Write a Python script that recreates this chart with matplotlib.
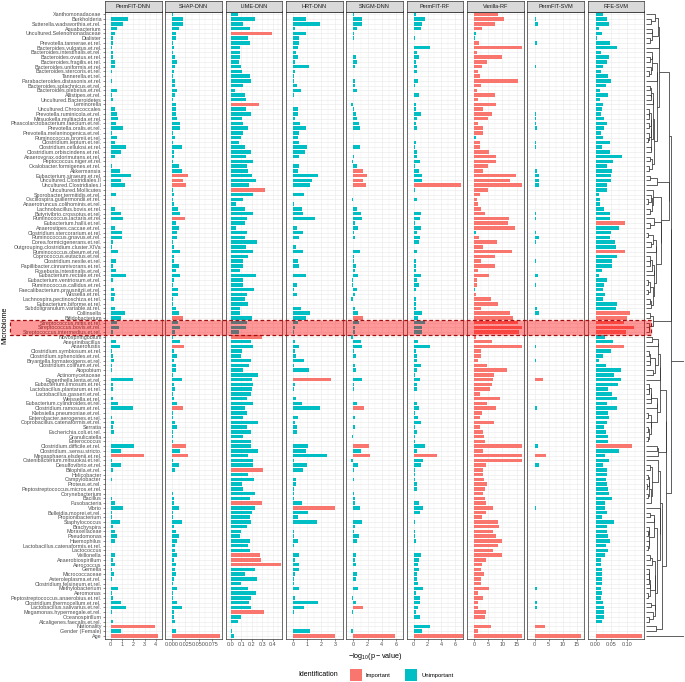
import numpy as np
import matplotlib
matplotlib.use('Agg')
import matplotlib.pyplot as plt
from matplotlib.patches import Rectangle
import matplotlib.transforms as mtransforms

plt.rcParams['font.family'] = ['Liberation Sans', 'DejaVu Sans']

# --- row labels, top to bottom ---
taxa = [
    "Xanthomonadaceae", "Burkholderia", "Sutterella.wadsworthia.et.rel.", "Aquabacterium",
    "Uncultured.Selenomonadaceae", "Dialister", "Prevotella.tannerae.et.rel.", "Bacteroides.vulgatus.et.rel.",
    "Bacteroides.intestinalis.et.rel.", "Bacteroides.ovatus.et.rel.",
    "Bacteroides.fragilis.et.rel.", "Bacteroides.uniformis.et.rel.", "Bacteroides.stercoris.et.rel.",
    "Tannerella.et.rel.", "Parabacteroides.distasonis.et.rel.", "Bacteroides.splachnicus.et.rel.",
    "Bacteroides.plebeius.et.rel.", "Allistipes.et.rel.", "Uncultured.Bacteroidetes", "Leminorella",
    "Uncultured.Chroococcales", "Prevotella.ruminicola.et.rel.", "Mitsuokella.multiacida.et.rel.",
    "Phascolarctobacterium.faecium.et.rel.", "Prevotella.oralis.et.rel.", "Prevotella.melaninogenica.et.rel.",
    "Ruminococcus.bromii.et.rel.", "Clostridium.leptum.et.rel.", "Clostridium.cellulosi.et.rel.",
    "Clostridium.orbiscindens.et.rel.",
    "Anaerovorax.odorimutans.et.rel.", "Peptococcus.niger.et.rel.", "Oxalobacter.formigenes.et.rel.",
    "Akkermansia", "Eubacterium.siraeum.et.rel.", "Uncultured.Clostridiales.II", "Uncultured.Clostridiales.I",
    "Uncultured.Mollicutes", "Sporobacter.termitidis.et.rel.", "Oscillospira.guillermondii.et.rel.",
    "Anaerotruncus.colihominis.et.rel.", "Lachnobacillus.bovis.et.rel.", "Butyrivibrio.crossotus.et.rel.",
    "Ruminococcus.lactaris.et.rel.", "Eubacterium.hallii.et.rel.", "Anaerostipes.caccae.et.rel.",
    "Clostridium.stercorarium.et.rel.", "Ruminococcus.gnavus.et.rel.", "Dorea.formicigenerans.et.rel.",
    "Outgrouping.clostridium.cluster.XIVa", "Ruminococcus.obeum.et.rel.", "Coprococcus.eutactus.et.rel.",
    "Clostridium.nexile.et.rel.",
    "Papillibacter.cinnamivorans.et.rel.", "Roseburia.intestinalis.et.rel.", "Eubacterium.rectale.et.rel.",
    "Eubacterium.ventriosum.et.rel.", "Ruminococcus.callidus.et.rel.", "Faecalibacterium.prausnitzii.et.rel.",
    "Wissella.et.rel.", "Lachnospira.pectinoschiza.et.rel.", "Eubacterium.biforme.et.rel.",
    "Subdoligranulum.variable.at.rel.",
    "Collinsella", "Bifidobacterium", "Streptococcus.mitis.et.rel.",
    "Streptococcus.bovis.et.rel.", "Streptococcus.intermedius.et.rel.", "Novosphingobium", "Aneurinibacillus",
    "Anaerofustis", "Clostridium.symbiosum.et.rel.", "Clostridium.sphenoides.et.rel.",
    "Bryantella.formatexigens.et.rel.", "Clostridium.colinum.et.rel.", "Atopobium",
    "Actinomycetaceae", "Eggerthella.lenta.et.rel.", "Eubacterium.limosum.et.rel.",
    "Lactobacillus.plantarum.et.rel.", "Lactobacillus.gasseri.et.rel.", "Weissella.et.rel.",
    "Eubacterium.cylindroides.et.rel.", "Clostridium.ramosum.et.rel.", "Klebsiella.pneumoniae.et.rel.",
    "Enterobacter.aerogenes.et.rel.",
    "Coprobacillus.catenaformis.et.rel.", "Serratia", "Escherichia.coli.et.rel.", "Granulicatella",
    "Enterococcus", "Clostridium.difficile.et.rel.", "Clostridium..sensu.stricto.",
    "Megasphaera.elsdenii.et.rel.", "Catenibacterium.mitsuokai.et.rel.", "Desulfovibrio.et.rel.",
    "Bilophila.et.rel.", "Helicobacter", "Campylobacter", "Proteus.et.rel.",
    "Peptostreptococcus.micros.et.rel.", "Corynebacterium", "Bacillus", "Fusobacteria", "Vibrio",
    "Bulleidia.moorei.et.rel.", "Propionibacterium", "Staphylococcus", "Brachyspira", "Moraxellaceae",
    "Pseudomonas", "Haemophilus", "Lactobacillus.catenaformis.et.rel.", "Lactococcus", "Veillonella",
    "Anaerobiospirillum", "Aerococcus", "Gemella", "Micrococcaceae", "Asteroleplasma.et.rel.",
    "Clostridium.felsineum.et.rel.", "Methylobacterium", "Aeromonas", "Peptostreptococcus.anaerobius.et.rel.",
    "Clostridium.thermocellum.et.rel.", "Lactobacillus.salivarius.et.rel.", "Megamonas.hypermegale.et.rel.",
    "Oceanospirillum", "Alcaligenes.faecalis.et.rel.", "Nationality",
    "Gender (Female)", "Age",
]

# --- -log10(p-value) per method, same order as taxa ---
perm_dnn = [
    0.05, 1.5, 1.1, 0.57, 0.38, 0.19, 0.22, 0.08, 0.24, 0.24,
    0.38, 0.35, 0.08, 0.0, 0.14, 0.03, 0.6, 0.1, 0.24, 0.0,
    0.4, 0.57, 0.62, 0.49, 1.05, 0.16, 0.6, 0.38, 1.4, 0.89,
    0.35, 0.0, 0.1,
    0.8, 1.8, 0.95, 1.3, 0.03, 0.46, 0.05, 0.05, 0.4, 0.9,
    1.08, 0.05, 0.38, 1.0, 1.0, 0.22, 0.08, 0.68, 0.0, 0.49,
    0.24, 0.43, 1.38, 0.19, 0.02, 0.27, 0.35, 0.27, 0.0, 0.4,
    1.27, 0.92, 0.54,
    0.73, 0.22, 0.05, 0.43, 0.81, 0.14, 0.22, 0.3, 0.14, 0.14,
    0.0, 1.97, 0.22, 0.22, 0.05, 0.22, 0.68, 1.95, 0.0, 0.08,
    0.3, 0.22, 0.3, 0.0, 0.05, 2.05, 0.95, 2.92, 0.08, 0.95,
    0.19, 0.03, 0.08, 0.05,
    0.0, 0.05, 0.14, 0.38, 1.1, 0.14, 0.14, 0.86, 0.22, 0.35,
    0.57, 0.38, 0.05, 0.03, 0.38, 0.22, 0.38, 0.14, 0.3, 0.16,
    0.03, 0.68, 0.1, 0.22, 0.95, 1.4, 0.14, 0.05, 0.22, 3.95,
    0.95, 4.15,
]
shap_dnn = [
    0.002, 0.021, 0.021, 0.013, 0.007, 0.007, 0.002, 0.004, 0.002, 0.005,
    0.01, 0.005, 0.004, 0.001, 0.005, 0.005, 0.01, 0.006, 0.002, 0.008,
    0.008, 0.007, 0.01, 0.016, 0.016, 0.002, 0.005, 0.002, 0.018, 0.003,
    0.003, 0.002, 0.013,
    0.018, 0.03, 0.021, 0.026, 0.002, 0.003, 0.002, 0.003, 0.012, 0.016,
    0.024, 0.007, 0.014, 0.009, 0.009, 0.002, 0.004, 0.016, 0.003, 0.003,
    0.013, 0.007, 0.015, 0.003, 0.002, 0.012, 0.012, 0.002, 0.002, 0.008,
    0.013, 0.02, 0.012,
    0.016, 0.005, 0.001, 0.015, 0.022, 0.004, 0.009, 0.003, 0.007, 0.007,
    0.001, 0.018, 0.003, 0.005, 0.001, 0.003, 0.009, 0.021, 0.001, 0.002,
    0.005, 0.01, 0.002, 0.001, 0.001, 0.027, 0.016, 0.03, 0.002, 0.013,
    0.005, 0.0005, 0.0, 0.0,
    0.0, 0.002, 0.003, 0.003, 0.013, 0.002, 0.002, 0.018, 0.004, 0.007,
    0.013, 0.009, 0.005, 0.005, 0.01, 0.004, 0.007, 0.005, 0.007, 0.003,
    0.001, 0.01, 0.002, 0.001, 0.009, 0.019, 0.004, 0.004, 0.005, 0.0,
    0.007, 0.09,
]
lime_dnn = [
    0.065, 0.23, 0.12, 0.18, 0.39, 0.16, 0.18, 0.085, 0.09, 0.085,
    0.075, 0.1, 0.11, 0.18, 0.19, 0.12, 0.04, 0.13, 0.14, 0.27,
    0.14, 0.19, 0.11, 0.12, 0.16, 0.12, 0.1, 0.08, 0.13, 0.19,
    0.14, 0.21, 0.15,
    0.16, 0.2, 0.24, 0.17, 0.33, 0.21, 0.12, 0.05, 0.13, 0.21,
    0.15, 0.13, 0.05, 0.15, 0.13, 0.25, 0.14, 0.21, 0.16, 0.12,
    0.12, 0.09, 0.24, 0.12, 0.12, 0.22, 0.15, 0.13, 0.16, 0.09,
    0.09, 0.2, 0.15,
    0.14, 0.08, 0.3, 0.19, 0.21, 0.11, 0.1, 0.19, 0.17, 0.12,
    0.26, 0.2, 0.21, 0.2, 0.19, 0.15, 0.21, 0.13, 0.15, 0.12,
    0.26, 0.15, 0.19, 0.12, 0.19, 0.19, 0.26, 0.16, 0.21, 0.21,
    0.31, 0.16, 0.22, 0.11,
    0.12, 0.23, 0.18, 0.3, 0.23, 0.2, 0.18, 0.19, 0.15, 0.1,
    0.09, 0.18, 0.16, 0.18, 0.28, 0.29, 0.48, 0.23, 0.13, 0.25,
    0.1, 0.16, 0.24, 0.19, 0.17, 0.19, 0.32, 0.1, 0.07, 0.0,
    0.006, 0.03,
]
hrt_dnn = [
    0.0, 0.9, 1.9, 0.16, 0.88, 0.45, 0.39, 0.33, 0.18, 0.35,
    0.1, 1.1, 0.16, 0.04, 0.08, 0.25, 0.53, 0.06, 0.0, 0.0,
    0.35, 0.35, 0.16, 0.47, 0.88, 0.43, 0.33, 0.39, 0.99, 0.82,
    0.39, 0.0, 0.45,
    0.33, 1.75, 1.33, 1.17, 0.0, 0.8, 0.0, 0.04, 0.62, 0.72,
    1.56, 0.02, 0.31, 0.68, 0.43, 0.02, 0.2, 0.68, 0.0, 0.37,
    0.45, 0.02, 0.9, 0.02, 0.29, 0.04, 0.29, 0.02, 0.0, 0.55,
    1.17, 0.92, 0.33,
    0.16, 0.08, 0.0, 0.16, 0.39, 0.1, 0.23, 0.74, 0.04, 1.11,
    0.02, 2.7, 0.14, 0.08, 0.0, 0.18, 0.62, 1.87, 0.0, 0.33,
    0.16, 0.29, 0.29, 0.0, 0.0, 1.07, 0.92, 2.4, 0.06, 0.99,
    0.68, 0.0, 0.18, 0.2,
    0.08, 0.06, 0.08, 0.62, 3.0, 1.05, 0.33, 1.7, 0.0, 0.08,
    0.06, 0.33, 0.08, 0.02, 0.39, 0.14, 0.43, 0.43, 0.16, 0.04,
    0.08, 0.41, 0.02, 0.12, 1.79, 0.74, 0.08, 0.02, 0.0, 0.0,
    1.23, 3.0,
]
sngm_dnn = [
    0.05, 1.2, 1.2, 0.5, 0.05, 0.05, 0.0, 0.0, -0.1, 0.3,
    0.47, 0.17, 0.0, 0.0, 0.17, 0.17, 0.47, 0.0, 0.0, -0.3,
    0.13, 0.3, 0.5, 0.73, 0.9, 0.0, -0.1, -0.1, 0.9, 0.0,
    0.1, -0.15, 0.56,
    1.3, 1.9, 1.3, 1.8, 0.0, 0.0, -0.25, 0.0, 0.5, 1.07,
    1.16, 0.26, 0.69, 0.09, 0.26, 0.0, -0.1, 0.86, 0.04, 0.13,
    0.34, 0.17, 0.69, -0.2, -0.2, 0.56, 0.21, -0.3, 0.0, 0.26,
    0.6, 1.33, 0.8,
    0.17, 0.17, -0.4, 1.0, 1.2, 0.04, 0.43, -0.13, 0.21, 0.39,
    0.0, 1.16, 0.13, 0.13, 0.0, 0.0, 0.47, 1.46, 0.0, 0.17,
    0.0, 0.26, 0.0, -0.17, 0.0, 2.2, 1.0, 2.3, -0.3, 0.64,
    0.13, 0.0, 0.04, 0.0,
    0.0, 0.09, 0.21, 0.26, 0.86, 0.0, 0.0, 1.2, 0.17, 0.13,
    0.73, 0.47, 0.0, 0.0, 0.39, 0.26, 0.34, -0.09, 0.51, 0.39,
    0.0, 0.6, -0.13, -0.17, 0.34, 1.3, -0.17, 0.0, 0.0, 0.0,
    -0.4, 5.9,
]
perm_rf = [
    0.33, 1.6, 1.27, 1.0, 0.1, 0.14, 0.0, 2.3, 0.42, 0.75,
    0.28, 0.52, 0.42, 0.1, 0.66, 0.14, 0.0, 0.7, 0.0, 0.38,
    0.38, 1.03, 0.52, 0.28, 0.47, 0.1, 0.0, 0.33, 0.19, 0.52,
    0.47, 0.85, 0.23,
    0.75, 1.17, 1.17, 6.85, 0.23, 0.1, 0.47, 0.0, 0.05, 1.08,
    0.94, 0.23, 1.03, 0.47, 0.85, 0.75, 0.05, 0.42, 0.0, 0.33,
    0.33, 0.28, 1.08, 0.52, 0.75, 0.38, 0.0, 0.33, 0.38, 0.33,
    1.27, 0.66, 1.7,
    1.13, 1.13, 0.1, 0.56, 2.3, 0.28, 0.52, 0.52, 0.99, 0.52,
    0.14, 0.89, 0.47, 0.47, 0.1, 0.05, 0.52, 0.8, 0.14, 0.56,
    1.03, 0.19, 0.52, 0.14, 0.14, 1.69, 0.52, 3.3, 1.31, 1.03,
    0.14, 0.19, 0.23, 0.52,
    0.52, 0.1, 0.05, 0.8, 1.31, 0.89, 0.0, 0.23, 0.05, 0.19,
    0.14, 0.33, 0.05, 0.05, 1.03, 0.8, 0.66, 0.8, 0.52, 0.42,
    0.56, 1.31, 0.28, 0.85, 0.85, 0.66, 0.38, 0.89, 0.0, 2.3,
    1.17, 7.1,
]
vanilla_rf = [
    8.5, 10.6, 7.4, 2.6, 0.66, 0.33, 1.66, 16.9, 1.1, 10.0,
    4.6, 2.9, 1.4, 2.2, 15.6, 2.3, 0.9, 7.2, 1.4, 7.7,
    3.2, 6.2, 5.0, 1.3, 3.2, 3.0, 0.66, 1.9, 1.9, 5.1,
    7.8, 7.9, 4.9,
    3.2, 14.9, 12.8, 16.9, 5.0, 2.0, 1.1, 1.4, 2.4, 4.0,
    12.4, 12.1, 14.5, 0.66, 1.8, 8.1, 3.2, 13.5, 7.4, 2.4,
    7.4, 1.4, 5.2, 1.1, 1.0, 0.33, 0.77, 6.0, 8.5, 2.3,
    12.7, 13.6, 15.5,
    16.9, 16.0, 0.77, 6.4, 16.9, 2.5, 2.3, 1.4, 4.5, 11.6,
    7.1, 6.6, 6.2, 5.5, 2.2, 9.3, 4.4, 7.7, 2.8, 2.2,
    7.1, 2.2, 3.1, 3.4, 4.0, 16.9, 3.2, 16.9, 16.9, 4.2,
    3.2, 3.2, 3.5, 4.4,
    3.75, 3.0, 3.9, 4.2, 6.7, 4.1, 2.9, 8.4, 8.8, 6.6,
    7.8, 9.7, 8.5, 6.6, 9.8, 4.3, 2.9, 2.3, 3.5, 2.3,
    2.3, 5.1, 1.5, 3.3, 1.3, 1.4, 4.2, 3.9, 0.0, 6.1,
    1.3, 17.0,
]
perm_svm = [
    0.0, 0.67, 1.2, 0.2, 0.1, 0.1, 1.0, 0.1, 0.0, 0.1,
    0.0, 0.56, 0.0, 0.0, 0.0, 0.0, 0.34, 0.34, 0.0, 0.0,
    0.1, 0.45, 0.45, 0.45, 0.9, 0.0, 0.2, 0.67, 0.67, 0.2,
    0.0, 0.0, 0.2,
    0.78, 1.46, 1.46, 1.46, 0.2, 0.0, 0.0, 0.0, 0.34, 0.67,
    0.45, 0.0, 0.11, 0.67, 1.57, 0.56, 0.2, 0.34, 0.0, 0.45,
    0.0, 0.0, 1.35, 0.34, 0.45, 0.11, 0.0, 0.0, 0.0, 0.78,
    1.57, 0.2, 0.2,
    0.34, 0.11, 0.0, 0.11, 0.56, 0.0, 0.0, 0.45, 0.11, 0.0,
    0.0, 2.9, 0.11, 0.11, 0.0, 0.0, 0.11, 1.0, 0.0, 0.0,
    0.11, 0.2, 0.11, 0.0, 0.11, 1.12, 0.0, 4.15, 0.0, 1.46,
    0.0, 0.0, 0.11, 0.0,
    0.0, 0.0, 0.0, 0.34, 0.67, 0.0, 0.0, 0.0, 0.0, 0.0,
    0.0, 0.2, 0.0, 0.0, 0.34, 0.0, 0.0, 0.0, 0.11, 0.0,
    0.0, 1.0, 0.0, 0.0, 0.78, 0.78, 0.11, 0.0, 0.0, 3.8,
    0.2, 16.4,
]
rfe_svm = [
    0.025, 0.038, 0.044, 0.01, 0.019, 0.004, 0.045, 0.07, 0.017, 0.043,
    0.038, 0.023, 0.016, 0.04, 0.05, 0.034, 0.015, 0.039, 0.013, 0.023,
    0.019, 0.017, 0.027, 0.036, 0.028, 0.017, 0.023, 0.045, 0.022, 0.046,
    0.084, 0.055, 0.035,
    0.053, 0.049, 0.048, 0.037, 0.037, 0.01, 0.013, 0.015, 0.028, 0.046,
    0.046, 0.093, 0.074, 0.05, 0.046, 0.061, 0.064, 0.094, 0.07, 0.052,
    0.052, 0.019, 0.012, 0.036, 0.028, 0.024, 0.031, 0.025, 0.068, 0.064,
    0.111, 0.1, 0.09,
    0.122, 0.098, 0.029, 0.056, 0.092, 0.049, 0.023, 0.012, 0.034, 0.082,
    0.06, 0.081, 0.073, 0.039, 0.053, 0.067, 0.038, 0.07, 0.04, 0.044,
    0.035, 0.027, 0.034, 0.041, 0.04, 0.117, 0.074, 0.029, 0.043, 0.025,
    0.035, 0.035, 0.032, 0.037,
    0.039, 0.043, 0.052, 0.031, 0.031, 0.038, 0.021, 0.059, 0.036, 0.035,
    0.04, 0.047, 0.032, 0.041, 0.031, 0.017, 0.016, 0.019, 0.019, 0.02,
    0.019, 0.016, 0.022, 0.016, 0.023, 0.026, 0.026, 0.027, 0.02, 0.0,
    0.0, 0.149,
]

# --- which rows each method calls "Important" ---
perm_dnn_imp = ["Megasphaera.elsdenii.et.rel.", "Nationality", "Age"]
shap_dnn_imp = ["Eubacterium.siraeum.et.rel.", "Uncultured.Clostridiales.II", "Uncultured.Clostridiales.I",
                "Ruminococcus.lactaris.et.rel.", "Bifidobacterium", "Anaerofustis",
                "Clostridium.ramosum.et.rel.", "Clostridium.difficile.et.rel.",
                "Megasphaera.elsdenii.et.rel.", "Age"]
lime_dnn_imp = ["Uncultured.Selenomonadaceae", "Leminorella", "Uncultured.Mollicutes", "Novosphingobium",
                "Bilophila.et.rel.", "Fusobacteria", "Veillonella", "Anaerobiospirillum", "Aerococcus",
                "Megamonas.hypermegale.et.rel."]
hrt_dnn_imp = ["Eggerthella.lenta.et.rel.", "Vibrio", "Age"]
sngm_dnn_imp = ["Akkermansia", "Eubacterium.siraeum.et.rel.", "Uncultured.Clostridiales.II",
                "Uncultured.Clostridiales.I", "Bifidobacterium", "Clostridium.ramosum.et.rel.",
                "Clostridium.difficile.et.rel.", "Megasphaera.elsdenii.et.rel.",
                "Lactobacillus.salivarius.et.rel.", "Age"]
perm_rf_imp = ["Uncultured.Clostridiales.I", "Megasphaera.elsdenii.et.rel.", "Age"]
vanilla_rf_unimp = ["Uncultured.Selenomonadaceae", "Dialister", "Ruminococcus.bromii.et.rel.",
                    "Clostridium.stercorarium.et.rel.", "Faecalibacterium.prausnitzii.et.rel."]
perm_svm_imp = ["Eggerthella.lenta.et.rel.", "Megasphaera.elsdenii.et.rel.", "Nationality", "Age"]
rfe_svm_imp = ["Eubacterium.hallii.et.rel.", "Ruminococcus.obeum.et.rel.", "Collinsella", "Bifidobacterium",
               "Streptococcus.mitis.et.rel.", "Streptococcus.bovis.et.rel.",
               "Streptococcus.intermedius.et.rel.", "Anaerofustis", "Clostridium.difficile.et.rel.", "Age"]
highlight = ["Streptococcus.mitis.et.rel.", "Streptococcus.bovis.et.rel.", "Streptococcus.intermedius.et.rel."]

vanilla_rf_imp = [t for t in taxa if t not in vanilla_rf_unimp]

methods = ["PermFIT-DNN", "SHAP-DNN", "LIME-DNN", "HRT-DNN", "SNGM-DNN",
           "PermFIT-RF", "Vanilla-RF", "PermFIT-SVM", "RFE-SVM"]
values = [perm_dnn, shap_dnn, lime_dnn, hrt_dnn, sngm_dnn, perm_rf, vanilla_rf, perm_svm, rfe_svm]
important = [perm_dnn_imp, shap_dnn_imp, lime_dnn_imp, hrt_dnn_imp, sngm_dnn_imp,
             perm_rf_imp, vanilla_rf_imp, perm_svm_imp, rfe_svm_imp]
xlims = [(-0.3, 4.2), (-0.0049, 0.094), (-0.023, 0.49), (-0.14, 3.18), (-0.69, 6.22),
         (-0.38, 7.15), (-0.88, 17.0), (-0.9, 17.3), (-0.0081, 0.156)]
xticks = [[0, 1, 2, 3, 4], [0.0, 0.025, 0.05, 0.075], [0.0, 0.1, 0.2, 0.3, 0.4], [0, 1, 2, 3],
          [0, 2, 4, 6], [0, 2, 4, 6], [0, 5, 10, 15], [0, 5, 10, 15], [0.0, 0.05, 0.10]]
xticklabels = [["0", "1", "2", "3", "4"], ["0.000", "0.025", "0.050", "0.075"],
               ["0.0", "0.1", "0.2", "0.3", "0.4"], ["0", "1", "2", "3"], ["0", "2", "4", "6"],
               ["0", "2", "4", "6"], ["0", "5", "10", "15"], ["0", "5", "10", "15"],
               ["0.00", "0.05", "0.10"]]

RED = '#F8766D'
TEAL = '#00BFC4'
GRID = '#EBEBEB'
n = len(taxa)
ypos = np.arange(n)

W, H = 685, 682
fig = plt.figure(figsize=(W / 100, H / 100), dpi=100)


def box(x0, y0, x1, y1):
    # pixel box (top-left origin) -> figure fraction rect
    return [x0 / W, 1 - y1 / H, (x1 - x0) / W, (y1 - y0) / H]


top, bottom = 11.5, 638.7
pitch, pw = 60.35, 56.5
axes = []
for i, m in enumerate(methods):
    x0 = 105 + pitch * i
    ax = fig.add_axes(box(x0, top, x0 + pw, bottom))
    axes.append(ax)
    vals = np.array(values[i])
    cols = [RED if t in important[i] else TEAL for t in taxa]
    ax.barh(ypos, vals, height=0.74, color=cols, lw=0, zorder=2)
    ax.set_ylim(n - 0.4, -0.6)
    ax.set_xlim(*xlims[i])
    ax.set_xticks(xticks[i])
    ax.set_xticklabels(xticklabels[i])
    mt = np.array(xticks[i], dtype=float)
    step = mt[1] - mt[0]
    ax.set_xticks(np.concatenate([mt - step / 2, [mt[-1] + step / 2]]), minor=True)
    ax.set_yticks(ypos)
    ax.grid(which='major', color=GRID, lw=0.45, zorder=0)
    ax.grid(which='minor', axis='x', color=GRID, lw=0.25, zorder=0)
    ax.set_axisbelow(True)
    ax.tick_params(axis='x', which='major', labelsize=3.9, colors='#333333', labelcolor='#4D4D4D',
                   length=1.6, width=0.4, pad=0.8)
    ax.tick_params(which='minor', length=0)
    if i == 0:
        ax.set_yticklabels(taxa)
        ax.tick_params(axis='y', labelsize=3.9, colors='#333333', labelcolor='#4D4D4D',
                       length=1.6, width=0.4, pad=0.8)
    else:
        ax.tick_params(axis='y', left=False, labelleft=False)
    for s in ax.spines.values():
        s.set_color('#333333')
        s.set_linewidth(0.5)

    # facet strip
    sax = fig.add_axes(box(x0, 0.8, x0 + pw, top))
    sax.set_facecolor('#D9D9D9')
    sax.set_xticks([])
    sax.set_yticks([])
    for s in sax.spines.values():
        s.set_color('#333333')
        s.set_linewidth(0.5)
    sax.text(0.5, 0.47, m, ha='center', va='center', fontsize=4.0, color='#1A1A1A',
             transform=sax.transAxes)

# --- dendrogram of the rows (adjacent-merge clustering on the 9 scores) ---
mat = np.array(values, dtype=float).T
mat = mat / np.abs(mat).max(axis=0)
clusters = [dict(c=mat[k].copy(), n=1, y=float(k), h=0.0) for k in range(n)]
segments = []
while len(clusters) > 1:
    d = []
    for j in range(len(clusters) - 1):
        a, b = clusters[j], clusters[j + 1]
        d.append(np.sqrt(2 * a['n'] * b['n'] / (a['n'] + b['n'])) * np.linalg.norm(a['c'] - b['c']))
    j = int(np.argmin(d))
    a, b = clusters[j], clusters[j + 1]
    h = max(d[j], a['h'], b['h']) + 1e-3
    segments.append(([a['h'], h, h, b['h']], [a['y'], a['y'], b['y'], b['y']]))
    nn = a['n'] + b['n']
    clusters[j:j + 2] = [dict(c=(a['c'] * a['n'] + b['c'] * b['n']) / nn, n=nn,
                             y=(a['y'] + b['y']) / 2, h=h)]
dax = fig.add_axes(box(646, top, 684, bottom))
hmax = max(max(s[0]) for s in segments)
for xs, ys in segments:
    dax.plot(xs, ys, color='#333333', lw=0.55, solid_capstyle='butt')
dax.set_ylim(n - 0.4, -0.6)
dax.set_xlim(-0.01 * hmax, hmax * 1.0)
dax.axis('off')

# --- highlighted Streptococcus rows ---
hi_idx = [taxa.index(t) for t in highlight]
tr = mtransforms.blended_transform_factory(fig.transFigure, axes[0].transData)
rect = Rectangle((10 / W, min(hi_idx) - 0.5), (651 - 10) / W, len(hi_idx),
                 transform=tr, facecolor=(1, 0, 0, 0.4), edgecolor='#A01010',
                 lw=0.9, ls=(0, (3, 2)), zorder=10)
fig.add_artist(rect)

# --- axis titles ---
fig.text(5 / W, 1 - 325 / H, 'Microbiome', rotation=90, ha='center', va='center', fontsize=5.2)
fig.text(375 / W, 1 - 656 / H, r'$\mathregular{-log_{10}(p - value)}$', ha='center', va='center',
         fontsize=5.2)

# --- legend ---
fig.text(298 / W, 1 - 675 / H, 'Identification', ha='left', va='center', fontsize=5.0)
fig.add_artist(Rectangle((350 / W, 1 - 681 / H), 12 / W, 12 / H, transform=fig.transFigure,
                         facecolor=RED, edgecolor='none'))
fig.text(366 / W, 1 - 675 / H, 'Important', ha='left', va='center', fontsize=4.2)
fig.add_artist(Rectangle((405 / W, 1 - 681 / H), 12 / W, 12 / H, transform=fig.transFigure,
                         facecolor=TEAL, edgecolor='none'))
fig.text(421 / W, 1 - 675 / H, 'Unimportant', ha='left', va='center', fontsize=4.2)

fig.savefig('out.png', dpi=100)
